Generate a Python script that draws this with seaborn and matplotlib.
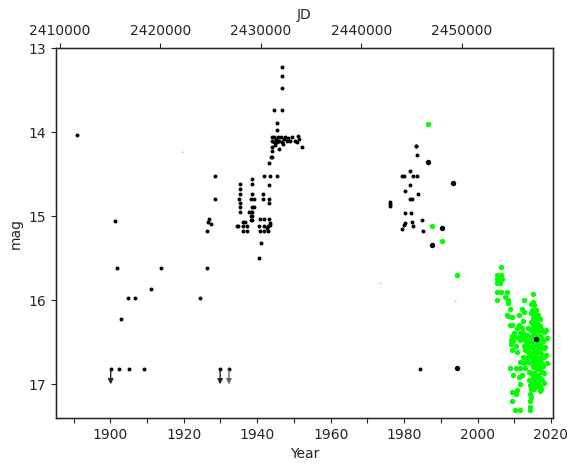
import matplotlib
matplotlib.use("Agg")
import matplotlib.pyplot as plt
import seaborn as sns
from matplotlib.ticker import MultipleLocator, FormatStrFormatter

# small black points (visual estimates)
black_year = [1890.9, 1901.2, 1901.8, 1913.8, 1911.1, 1904.8, 1906.8, 1902.9, 1924.3, 1926.3,
              1900.1, 1902.4, 1905.0, 1909.1, 1929.9, 1932.3,
              1927.0, 1926.5, 1927.4, 1926.2, 1928.4, 1928.4,
              1935.3, 1935.3, 1935.3, 1935.0, 1935.3, 1935.3, 1935.3, 1934.9, 1936.1, 1936.8,
              1936.1, 1937.2, 1936.1, 1937.2, 1934.5,
              1938.6, 1938.6, 1938.6, 1938.3, 1939.0, 1938.7, 1939.1, 1937.9, 1938.3, 1938.7,
              1938.3, 1938.7, 1938.3, 1938.7,
              1940.7, 1941.8, 1943.3, 1940.5, 1941.8, 1942.9, 1940.7, 1941.8, 1942.9, 1943.4,
              1942.6, 1943.6, 1941.5, 1941.5, 1943.1, 1943.1, 1941.8, 1943.4, 1945.5, 1943.1,
              1941.1, 1940.4, 1943.3, 1943.8, 1944.1, 1944.1, 1945.9, 1944.1,
              1945.3, 1945.4, 1944.7, 1946.8, 1946.7, 1946.7, 1946.8,
              1944.0, 1944.0, 1944.5, 1944.5, 1945.0, 1945.3, 1945.7, 1946.0, 1946.4, 1946.8,
              1947.2, 1947.6, 1948.0, 1948.4, 1949.0, 1949.6, 1950.2, 1950.8, 1951.1, 1951.5,
              1952.2, 1947.0, 1944.8,
              1983.2, 1983.3, 1983.6, 1981.7, 1979.5, 1980.1, 1982.4, 1983.6, 1981.7, 1980.3,
              1983.8, 1981.5, 1982.2, 1976.2, 1976.2, 1976.3, 1980.3, 1981.9, 1984.8, 1982.2,
              1980.3, 1980.1, 1979.5, 1982.4, 1985.2, 1984.4]
black_mag = [14.04, 15.06, 15.62, 15.62, 15.86, 15.97, 15.97, 16.22, 15.97, 15.62,
             16.82, 16.82, 16.82, 16.82, 16.82, 16.82,
             15.03, 15.07, 15.09, 15.17, 14.52, 14.79,
             14.62, 14.68, 14.73, 14.79, 14.84, 14.89, 14.95, 15.12, 15.07, 15.07,
             15.12, 15.12, 15.17, 15.17, 15.12,
             14.56, 14.62, 14.73, 14.79, 14.79, 14.89, 14.89, 14.95, 14.95, 14.95,
             15.00, 15.00, 15.05, 15.05,
             15.03, 15.03, 15.03, 15.12, 15.12, 15.12, 15.17, 15.17, 15.17, 15.08,
             15.14, 15.10, 14.73, 14.79, 14.79, 14.84, 14.52, 14.52, 14.52, 14.63,
             15.32, 15.50, 14.37, 14.29, 14.23, 14.30, 14.20, 14.18,
             13.89, 13.98, 13.74, 13.74, 13.22, 13.33, 13.48,
             14.06, 14.10, 14.06, 14.12, 14.08, 14.12, 14.06, 14.10, 14.06, 14.12,
             14.08, 14.06, 14.11, 14.07, 14.10, 14.06, 14.10, 14.12, 14.05, 14.08,
             14.18, 14.14, 14.15,
             14.17, 14.16, 14.27, 14.46, 14.52, 14.52, 14.52, 14.52, 14.63, 14.70,
             14.74, 14.80, 14.80, 14.83, 14.85, 14.88, 14.96, 14.96, 15.04, 15.07,
             15.08, 15.10, 15.15, 15.12, 15.18, 16.82]

# larger black points
big_year = [1986.4, 1993.3, 1990.2, 1987.6, 1994.3, 2015.9]
big_mag = [14.35, 14.60, 15.14, 15.34, 16.80, 16.46]

# upper limits (arrows)
limit_year = [1900.1, 1929.9, 1932.3]
limit_mag = [16.82, 16.82, 16.82]
limit_color = ['0.15', '0.15', '0.4']

# very faint points
faint_year = [1919.6, 1973.5, 1993.8]
faint_mag = [14.24, 15.79, 16.01]

# green points
green_year = [1986.4, 1987.6, 1990.2, 1994.3,
              2006.35, 2005.3, 2006.4, 2005.4, 2006.8, 2005.3, 2006.0, 2005.2, 2006.5, 2007.9,
              2005.4, 2007.4, 2008.3, 2008.4, 2008.8, 2012.7, 2012.0, 2012.7, 2007.9, 2008.4,
              2009.3, 2011.4, 2008.8, 2009.3, 2012.5, 2011.2, 2010.8, 2012.1, 2010.0, 2011.7,
              2012.5, 2013.4, 2009.5, 2010.4, 2011.2, 2012.1, 2012.9, 2009.0, 2009.8, 2011.5,
              2012.4, 2013.5, 2009.2, 2010.5, 2012.6, 2013.4, 2013.7, 2009.5, 2010.8, 2013.0,
              2013.8, 2012.4, 2013.3, 2014.0, 2011.5, 2012.7, 2013.5, 2008.8, 2010.6, 2011.5,
              2012.9, 2009.6, 2011.2, 2012.1, 2011.7, 2010.8, 2009.5, 2010.4, 2009.5, 2010.2,
              2011.5, 2014.3, 2014.4, 2014.3, 2014.7, 2014.3, 2014.6, 2014.2,
              2013.7, 2013.3, 2013.8, 2013.5, 2013.9, 2014.0,
              2014.6, 2014.5, 2014.7, 2014.5, 2014.6, 2014.8, 2014.5, 2014.7, 2014.6, 2014.8,
              2015.0, 2015.1, 2014.9, 2015.1, 2015.0, 2015.2, 2014.9, 2015.1, 2015.0, 2015.2, 2015.0, 2015.1,
              2015.5, 2015.4, 2015.6, 2015.5, 2015.4, 2015.6, 2015.5, 2015.4, 2015.6, 2015.5,
              2016.0, 2016.1, 2015.9, 2016.0, 2016.2, 2016.0, 2015.9, 2016.1, 2016.0, 2016.2,
              2016.5, 2016.4, 2016.6, 2016.5, 2016.4, 2016.6, 2016.5, 2016.4, 2016.6,
              2017.0, 2016.9, 2017.1, 2017.0, 2016.9, 2017.1, 2017.0, 2016.9, 2017.1, 2017.0,
              2017.5, 2017.4, 2017.6, 2017.5, 2017.4, 2017.6, 2017.5, 2017.4,
              2018.0, 2017.9, 2018.1, 2018.0, 2017.9, 2018.1, 2018.0,
              2018.6, 2018.8, 2018.5, 2018.7, 2018.9]
green_mag = [13.90, 15.12, 15.30, 15.70,
             15.60, 15.70, 15.70, 15.75, 15.75, 15.80, 15.80, 15.90, 15.90, 15.90,
             16.00, 15.96, 16.00, 16.03, 16.10, 16.00, 16.10, 16.14, 16.17, 16.19,
             16.20, 16.17, 16.29, 16.29, 16.25, 16.29, 16.33, 16.33, 16.39, 16.39,
             16.39, 16.41, 16.42, 16.44, 16.45, 16.44, 16.45, 16.47, 16.48, 16.47,
             16.46, 16.48, 16.52, 16.54, 16.54, 16.51, 16.55, 16.59, 16.61, 16.59,
             16.61, 16.67, 16.69, 16.66, 16.73, 16.75, 16.73, 16.80, 16.80, 16.81,
             16.80, 16.89, 16.91, 16.89, 16.99, 17.07, 17.09, 17.11, 17.20, 17.31,
             17.31, 17.27, 17.31, 17.01, 17.05, 17.11, 17.15, 17.20,
             16.33, 16.50, 16.60, 16.70, 16.85, 16.95,
             16.05, 16.15, 16.26, 16.35, 16.44, 16.56, 16.65, 16.74, 16.86, 16.95,
             15.93, 16.02, 16.12, 16.21, 16.30, 16.41, 16.50, 16.61, 16.70, 16.79, 16.90, 17.00,
             16.06, 16.16, 16.27, 16.36, 16.55, 16.66, 16.77, 16.86, 16.97, 17.06,
             16.12, 16.21, 16.32, 16.43, 16.52, 16.63, 16.72, 16.82, 16.92, 17.02,
             16.18, 16.28, 16.37, 16.48, 16.58, 16.69, 16.78, 16.89, 16.98,
             16.22, 16.31, 16.42, 16.53, 16.62, 16.71, 16.82, 16.93, 17.02, 17.08,
             16.35, 16.45, 16.56, 16.65, 16.74, 16.85, 16.95, 17.05,
             16.38, 16.48, 16.57, 16.68, 16.78, 16.87, 16.98,
             16.35, 16.45, 16.55, 16.65, 16.75]

year_lim = (1885.2, 2020.5)


def year2jd(y):
    return 2451545.0 + (y - 2000.0) * 365.25


sns.set_style("ticks")
plt.rcParams['font.family'] = ['DejaVu Sans']
plt.rcParams['font.size'] = 10

fig = plt.figure(figsize=(5.79, 4.71), dpi=100)
ax = fig.add_axes([0.0967, 0.1125, 0.858, 0.7855])

ax.set_xlim(*year_lim)
ax.set_ylim(17.4, 13.0)

sns.scatterplot(x=faint_year, y=faint_mag, ax=ax, color='0.85', s=3, linewidth=0)
sns.scatterplot(x=black_year, y=black_mag, ax=ax, color='black', s=8, linewidth=0)
sns.scatterplot(x=green_year, y=green_mag, ax=ax, color='#00ff00', s=15, linewidth=0)
sns.scatterplot(x=big_year, y=big_mag, ax=ax, color='black', s=15, linewidth=0)

# upper limits drawn as arrows pointing to fainter magnitudes
for yr, mg, col in zip(limit_year, limit_mag, limit_color):
    ax.annotate('', xy=(yr, mg + 0.18), xytext=(yr, mg),
                arrowprops=dict(arrowstyle='-|>,head_length=0.3,head_width=0.15',
                                color=col, lw=1.0, shrinkA=0, shrinkB=0))

ax.set_xlabel('Year', fontsize=10)
ax.set_ylabel('mag', fontsize=10)
ax.xaxis.set_major_locator(MultipleLocator(20))
ax.xaxis.set_minor_locator(MultipleLocator(10))
ax.yaxis.set_major_locator(MultipleLocator(1))
ax.tick_params(axis='both', which='both', length=3.5, width=0.8, labelsize=10, direction='out')
for sp in ax.spines.values():
    sp.set_linewidth(1.0)
    sp.set_color('black')

# top axis in Julian Date
top = ax.twiny()
top.set_xlim(year2jd(year_lim[0]), year2jd(year_lim[1]))
top.xaxis.set_major_locator(MultipleLocator(10000))
top.xaxis.set_major_formatter(FormatStrFormatter('%d'))
top.tick_params(length=3.5, width=0.8, labelsize=10, direction='out')
top.set_xlabel('JD', fontsize=10)

fig.savefig('out.png', dpi=100)
